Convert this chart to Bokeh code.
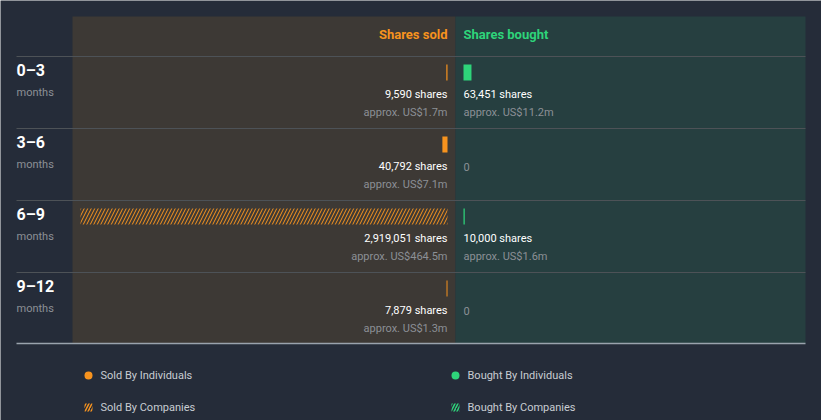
from bokeh.plotting import figure
from bokeh.models import Range1d, ColumnDataSource
from bokeh.core.properties import value
from bokeh.embed import file_html
from bokeh.resources import INLINE

# ---- data ----
periods = ["0\u20133", "3\u20136", "6\u20139", "9\u201312"]
period_unit = ["months", "months", "months", "months"]
sold_individuals = [9590, 40792, 0, 7879]
sold_companies = [0, 0, 2919051, 0]
bought_individuals = [63451, 0, 10000, 0]
bought_companies = [0, 0, 0, 0]
sold_usd_m = [1.7, 7.1, 464.5, 1.3]
bought_usd_m = [11.2, 0, 1.6, 0]
legend_labels = ["Sold By Individuals", "Sold By Companies", "Bought By Individuals", "Bought By Companies"]

# ---- style ----
BG = "#252c39"
SOLD_BG = "#3d3935"
BOUGHT_BG = "#263f40"
ORANGE = "#f7931e"
GREEN = "#2ed47a"
SEP = "#4d5257"
WHITE = "#ffffff"
GREY = "#8c9096"
LEG = "#c8ccd2"
FONT = value("Roboto")

W, H = 821, 420
p = figure(width=W, height=H, output_backend="svg", toolbar_location=None,
           x_range=Range1d(0, W), y_range=Range1d(H, 0), min_border=0,
           background_fill_color=BG, border_fill_color=BG, outline_line_color=None)
p.axis.visible = False
p.grid.visible = False

# scale: pixels per share
max_total = max(s + c for s, c in zip(sold_individuals, sold_companies))
bar_px = 367.0
k = bar_px / max_total
SOLD_X0 = 447.0
BOUGHT_X0 = 463.0
p.extra_x_ranges = {
    "sold": Range1d(start=SOLD_X0 / k, end=(SOLD_X0 - W) / k),
    "bought": Range1d(start=-BOUGHT_X0 / k, end=(W - BOUGHT_X0) / k),
}

ROW0 = 56
ROWH = 72
PANEL_TOP = 16
PANEL_BOTTOM = 343
LEFT = 16
RIGHT = 805
MID = 455

# panels
p.quad(left=[72], right=[MID], top=[PANEL_TOP], bottom=[PANEL_BOTTOM], fill_color=SOLD_BG, line_color=None)
p.quad(left=[MID], right=[RIGHT], top=[PANEL_TOP], bottom=[PANEL_BOTTOM], fill_color=BOUGHT_BG, line_color=None)

# separators
n = len(periods)
seps = [ROW0 + ROWH * i for i in range(n)]
p.segment(x0=[LEFT] * n, x1=[RIGHT] * n, y0=seps, y1=seps, line_color=SEP, line_width=1)
p.segment(x0=[LEFT], x1=[RIGHT], y0=[PANEL_BOTTOM], y1=[PANEL_BOTTOM], line_color="#9aa3ad", line_width=1.5)

# headers
p.text(x=[SOLD_X0], y=[34], text=["Shares sold"], text_color=ORANGE, text_font=FONT, text_font_size="13px",
       text_font_style="bold", text_align="right", text_baseline="middle")
p.text(x=[BOUGHT_X0], y=[34], text=["Shares bought"], text_color=GREEN, text_font=FONT, text_font_size="13px",
       text_font_style="bold", text_align="left", text_baseline="middle")

tops = [ROW0 + ROWH * i for i in range(n)]
bar_y = [t + 16 for t in tops]

# row labels
p.text(x=[LEFT] * n, y=[t + 14 for t in tops], text=periods, text_color=WHITE, text_font=FONT,
       text_font_size="16px", text_font_style="bold", text_baseline="middle")
p.text(x=[LEFT] * n, y=[t + 36 for t in tops], text=period_unit, text_color=GREY, text_font=FONT,
       text_font_size="11px", text_baseline="middle")

# bars
src = ColumnDataSource(dict(y=bar_y, si=sold_individuals, sc=sold_companies,
                            sct=[a + b for a, b in zip(sold_individuals, sold_companies)],
                            bi=bought_individuals, bc=bought_companies,
                            bct=[a + b for a, b in zip(bought_individuals, bought_companies)]))
p.hbar(y="y", left=0, right="si", height=16, source=src, x_range_name="sold",
       fill_color=ORANGE, line_color=None)
p.hbar(y="y", left="si", right="sct", height=16, source=src, x_range_name="sold",
       fill_alpha=0, line_color=None, hatch_pattern="/", hatch_color=ORANGE, hatch_scale=7, hatch_weight=1)
p.hbar(y="y", left=0, right="bi", height=16, source=src, x_range_name="bought",
       fill_color=GREEN, line_color=None)
p.hbar(y="y", left="bi", right="bct", height=16, source=src, x_range_name="bought",
       fill_alpha=0, line_color=None, hatch_pattern="/", hatch_color=GREEN, hatch_scale=7, hatch_weight=1)

# value labels
def labels(shares, usd):
    main, sub = [], []
    for s, u in zip(shares, usd):
        if s == 0:
            main.append("0")
            sub.append("")
        else:
            main.append(f"{s:,} shares")
            sub.append(f"approx. US${u}m")
    return main, sub

sold_tot = [a + b for a, b in zip(sold_individuals, sold_companies)]
bought_tot = [a + b for a, b in zip(bought_individuals, bought_companies)]
sm, ss = labels(sold_tot, sold_usd_m)
bm, bs = labels(bought_tot, bought_usd_m)
main_colors_s = [GREY if v == 0 else WHITE for v in sold_tot]
main_colors_b = [GREY if v == 0 else WHITE for v in bought_tot]

p.text(x=[0] * n, y=[t + 38 for t in tops], text=sm, text_color=main_colors_s, text_font=FONT,
       text_font_size="11px", text_align="right", text_baseline="middle", x_range_name="sold")
p.text(x=[0] * n, y=[t + 56 for t in tops], text=ss, text_color=GREY, text_font=FONT,
       text_font_size="11px", text_align="right", text_baseline="middle", x_range_name="sold")
p.text(x=[0] * n, y=[t + 38 for t in tops], text=bm, text_color=main_colors_b, text_font=FONT,
       text_font_size="11px", text_align="left", text_baseline="middle", x_range_name="bought")
p.text(x=[0] * n, y=[t + 56 for t in tops], text=bs, text_color=GREY, text_font=FONT,
       text_font_size="11px", text_align="left", text_baseline="middle", x_range_name="bought")

# legend
LX = [88, 88, 455, 455]
LY = [375, 407, 375, 407]
p.scatter(x=[LX[0], LX[2]], y=[LY[0], LY[2]], size=8, marker="circle",
          fill_color=[ORANGE, GREEN], line_color=None)
p.rect(x=[LX[1], LX[3]], y=[LY[1], LY[3]], width=8, height=8, fill_alpha=0, line_color=None,
       hatch_pattern="/", hatch_color=[ORANGE, GREEN], hatch_scale=6, hatch_weight=1.5)
p.text(x=[x + 12 for x in LX], y=LY, text=legend_labels, text_color=LEG, text_font=FONT,
       text_font_size="11px", text_baseline="middle")

open("out.html", "w").write(file_html(p, INLINE))
